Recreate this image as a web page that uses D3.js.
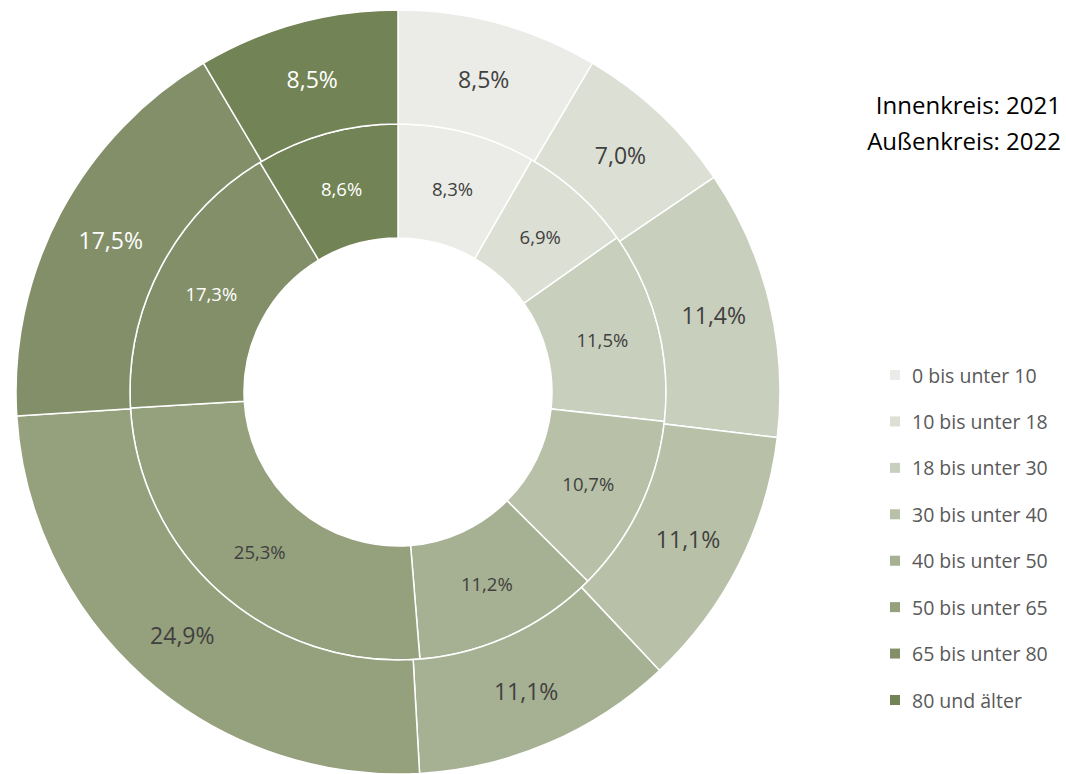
<!DOCTYPE html>
<html><head><meta charset="utf-8">
<script src="https://cdn.jsdelivr.net/npm/d3@7"></script>
<style>body{margin:0;background:#fff;} svg{display:block;font-family:"Open Sans",Lato,sans-serif;}</style>
</head><body>
<svg id="c" width="1066" height="774"></svg>
<script>
const categories = ["0 bis unter 10","10 bis unter 18","18 bis unter 30","30 bis unter 40","40 bis unter 50","50 bis unter 65","65 bis unter 80","80 und älter"];
const values2021 = [8.3, 6.9, 11.5, 10.7, 11.2, 25.3, 17.3, 8.6];
const values2022 = [8.5, 7.0, 11.4, 11.1, 11.1, 24.9, 17.5, 8.5];
const colors = ["#ebece7","#dcdfd3","#c9cfbd","#b8c0a8","#a6b092","#95a07d","#838f69","#728355"];
const innerLabelColors = ["#404040","#404040","#404040","#404040","#404040","#404040","#ffffff","#ffffff"];
const outerLabelColors = ["#404040","#404040","#404040","#404040","#404040","#404040","#ffffff","#ffffff"];

const svg = d3.select("#c");
const cx = 398, cy = 392;
const R0 = 154, R1 = 268, R2 = 382;
const g = svg.append("g").attr("transform", `translate(${cx},${cy})`);
const pie = d3.pie().sort(null).value(d => d);
const fmt = v => d3.format(".1f")(v).replace(".", ",") + "%";

function ring(vals, r0, r1, fs, labelColors) {
  const arc = d3.arc().innerRadius(r0).outerRadius(r1);
  const arcs = pie(vals);
  g.append("g").selectAll("path").data(arcs).join("path")
    .attr("d", arc).attr("fill", (d,i) => colors[i])
    .attr("stroke", "#fff").attr("stroke-width", 1.5);
  g.append("g").selectAll("text").data(arcs).join("text")
    .attr("transform", d => `translate(${arc.centroid(d)})`)
    .attr("text-anchor", "middle").attr("dominant-baseline", "central")
    .attr("font-size", fs).attr("fill", (d,i) => labelColors[i])
    .text(d => fmt(d.data));
}
ring(values2021, R0, R1, 18.5, innerLabelColors);
ring(values2022, R1, R2, 23, outerLabelColors);

// header text
const hdr = svg.append("g").attr("font-size", 24).attr("fill", "#000").attr("text-anchor", "end");
hdr.append("text").attr("x", 1061).attr("y", 104).attr("dominant-baseline", "central").text("Innenkreis: 2021");
hdr.append("text").attr("x", 1061).attr("y", 140).attr("dominant-baseline", "central").text("Außenkreis: 2022");

// legend
const ly = d3.scalePoint().domain(categories).range([375, 700]);
const leg = svg.append("g").selectAll("g").data(categories).join("g")
  .attr("transform", d => `translate(890,${ly(d)})`);
leg.append("rect").attr("x", 0).attr("y", -5).attr("width", 10).attr("height", 10)
  .attr("fill", (d,i) => colors[i]);
leg.append("text").attr("x", 22).attr("y", 0).attr("dominant-baseline", "central")
  .attr("font-size", 19.5).attr("fill", "#595959").text(d => d);
</script>
</body></html>
